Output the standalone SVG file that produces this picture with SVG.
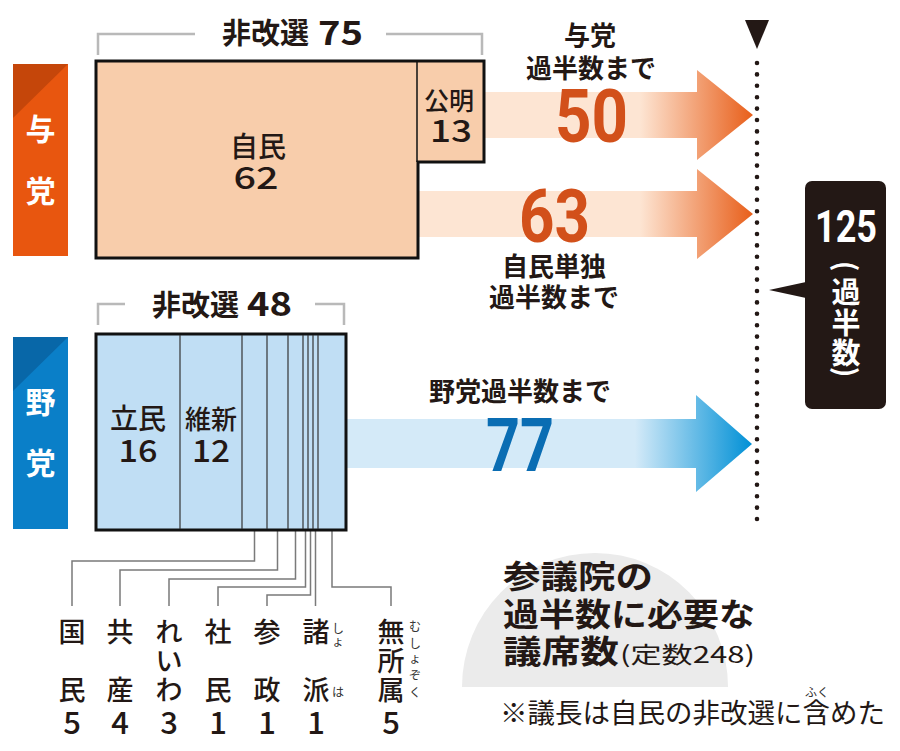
<svg xmlns="http://www.w3.org/2000/svg" width="900" height="751" viewBox="0 0 900 751">
<style>
.jp{font-family:"Noto Sans CJK JP","Noto Sans",sans-serif}
.b{font-weight:700}
.m{font-weight:500}
.num{font-family:Roboto,"Liberation Sans",sans-serif;font-weight:700}
.c{text-anchor:middle}
.brk{fill:none;stroke:#b9b9b9;stroke-width:2.5}
.lead{fill:none;stroke:#7a7a7a;stroke-width:1.5}
.div{stroke:#333;stroke-width:1.2}
.dark{fill:#231815}
.furi{font-family:"Noto Sans CJK JP",sans-serif;font-size:12px;fill:#333;text-anchor:middle}
</style>
<defs>
<linearGradient id="gO" gradientUnits="userSpaceOnUse" x1="640" y1="0" x2="752" y2="0">
<stop offset="0" stop-color="#fde5d3"/><stop offset="1" stop-color="#e8601c"/>
</linearGradient>
<linearGradient id="gB" gradientUnits="userSpaceOnUse" x1="635" y1="0" x2="752" y2="0">
<stop offset="0" stop-color="#d4eaf8"/><stop offset="1" stop-color="#0090d6"/>
</linearGradient>
</defs>
<rect width="900" height="751" fill="#fff"/>

<!-- connectors -->
<g id="connectors">
<path fill="url(#gO)" d="M484 92 H697 V70 L753 115 L697 160 V138 H484 Z"/>
<path fill="url(#gO)" d="M418 191 H697 V169 L753 214 L697 259 V237 H418 Z"/>
<path fill="url(#gB)" d="M346 419 H696 V395 L752 444 L696 492 V468 H346 Z"/>
<line x1="757" y1="63" x2="757" y2="522" stroke="#231815" stroke-width="4.6" stroke-linecap="round" stroke-dasharray="0 11.4"/>
<polygon class="dark" points="745,20 769,20 757,49"/>
<g class="lead">
<path d="M254.5 524 V561 H72 V606"/>
<path d="M277.5 524 V570 H120 V606"/>
<path d="M295.5 524 V579 H169 V606"/>
<path d="M305.5 524 V587 H218 V606"/>
<path d="M310.5 524 V595 H267 V606"/>
<path d="M315.5 524 V606"/>
<path d="M332 524 V587 H391 V606"/>
</g>
</g>

<!-- ruling party tab -->
<g id="tab-ruling">
<rect x="13" y="64" width="55" height="192" fill="#e8560f"/>
<polygon points="13,64 68,64 13,118" fill="#c5460a"/>
<text class="jp b c" x="40.5" y="140" font-size="30" fill="#fff">与</text>
<text class="jp b c" x="40.5" y="202" font-size="30" fill="#fff">党</text>
</g>

<!-- opposition tab -->
<g id="tab-opposition">
<rect x="13" y="337" width="55" height="192" fill="#0a7fc8"/>
<polygon points="13,337 68,337 13,391" fill="#0867a8"/>
<text class="jp b c" x="40.5" y="413" font-size="30" fill="#fff">野</text>
<text class="jp b c" x="40.5" y="474" font-size="30" fill="#fff">党</text>
</g>

<!-- top bracket -->
<g id="bracket-ruling">
<path class="brk" d="M98 55 V34 H195"/>
<path class="brk" d="M386 34 H482 V55"/>
<text class="jp b" x="222" y="43.5" font-size="29" fill="#231815">非改選</text>
<text class="jp b" x="318" y="45" font-size="33" fill="#231815" textLength="45" lengthAdjust="spacingAndGlyphs">75</text>
</g>

<!-- ruling box -->
<g id="box-ruling">
<path d="M96 61 H484 V162 H418 V258 H96 Z" fill="#f8cdab" stroke="#111" stroke-width="3"/>
<line x1="417" y1="61" x2="417" y2="162" stroke="#111" stroke-width="1.5"/>
<text class="jp m c" x="258" y="157" font-size="28" fill="#231815">自民</text>
<text class="jp m c" x="256" y="189" font-size="31" fill="#231815" textLength="45" lengthAdjust="spacingAndGlyphs">62</text>
<text class="jp m c" x="449" y="110" font-size="25" fill="#231815">公明</text>
<text class="jp m c" x="451" y="142" font-size="31" fill="#231815" textLength="42" lengthAdjust="spacingAndGlyphs">13</text>
</g>

<!-- arrow labels -->
<g id="label-50">
<text class="jp b c" x="590" y="45" font-size="26" fill="#231815">与党</text>
<text class="jp b c" x="591" y="77.5" font-size="26" fill="#231815">過半数まで</text>
<text class="num" x="555" y="142" font-size="75" fill="#d2501a" textLength="73" lengthAdjust="spacingAndGlyphs">50</text>
</g>
<g id="label-63">
<text class="num" x="519" y="242" font-size="75" fill="#d2501a" textLength="71" lengthAdjust="spacingAndGlyphs">63</text>
<text class="jp b c" x="554" y="275.5" font-size="26" fill="#231815">自民単独</text>
<text class="jp b c" x="554" y="306.5" font-size="26" fill="#231815">過半数まで</text>
</g>
<g id="label-77">
<text class="jp b c" x="520" y="400.5" font-size="26" fill="#231815">野党過半数まで</text>
<text class="num" x="486" y="471" font-size="75" fill="#0a6db3" textLength="68" lengthAdjust="spacingAndGlyphs">77</text>
</g>

<!-- 125 callout -->
<g id="callout-125">
<rect x="805" y="181" width="81" height="228" rx="7" class="dark"/>
<polygon class="dark" points="806,282 806,298 769,290"/>
<text class="num c" x="846" y="242" font-size="44" fill="#fff" textLength="62" lengthAdjust="spacingAndGlyphs">125</text>
<text class="jp b c" x="846" y="276" font-size="28" fill="#fff" transform="rotate(90 846 266)">(</text>
<text class="jp b c" x="846" y="303" font-size="29" fill="#fff">過</text>
<text class="jp b c" x="846" y="334" font-size="29" fill="#fff">半</text>
<text class="jp b c" x="846" y="364" font-size="29" fill="#fff">数</text>
<text class="jp b c" x="846" y="382" font-size="28" fill="#fff" transform="rotate(90 846 372)">)</text>
</g>

<!-- bottom bracket -->
<g id="bracket-opposition">
<path class="brk" d="M98 325 V304 H125"/>
<path class="brk" d="M315 304 H344 V325"/>
<text class="jp b" x="152" y="315.5" font-size="29" fill="#231815">非改選</text>
<text class="jp b" x="247" y="316" font-size="33" fill="#231815" textLength="45" lengthAdjust="spacingAndGlyphs">48</text>
</g>

<!-- opposition box -->
<g id="box-opposition">
<rect x="96" y="334" width="250" height="196" fill="#c0def4" stroke="#111" stroke-width="3"/>
<g class="div">
<line x1="180" y1="335" x2="180" y2="529"/>
<line x1="242" y1="335" x2="242" y2="529"/>
<line x1="267" y1="335" x2="267" y2="529"/>
<line x1="288" y1="335" x2="288" y2="529"/>
<line x1="303" y1="335" x2="303" y2="529"/>
<line x1="308" y1="335" x2="308" y2="529"/>
<line x1="313" y1="335" x2="313" y2="529"/>
<line x1="318" y1="335" x2="318" y2="529"/>
</g>
<text class="jp m c" x="138" y="429" font-size="28" fill="#231815">立民</text>
<text class="jp m c" x="138" y="462" font-size="31" fill="#231815" textLength="39" lengthAdjust="spacingAndGlyphs">16</text>
<text class="jp m c" x="211" y="429" font-size="26" fill="#231815">維新</text>
<text class="jp m c" x="211" y="462" font-size="31" fill="#231815" textLength="38" lengthAdjust="spacingAndGlyphs">12</text>
</g>

<!-- small party labels -->
<g id="labels-small" class="jp m c" font-size="27" fill="#231815">
<g id="p-kokumin"><text x="72" y="642">国</text><text x="72" y="700">民</text><text x="72" y="734" font-size="31">5</text></g>
<g id="p-kyosan"><text x="120" y="642">共</text><text x="120" y="700">産</text><text x="120" y="734" font-size="31">4</text></g>
<g id="p-reiwa"><text x="169" y="642">れ</text><text x="169" y="671">い</text><text x="169" y="700">わ</text><text x="169" y="734" font-size="31">3</text></g>
<g id="p-shamin"><text x="218" y="642">社</text><text x="218" y="700">民</text><text x="218" y="734" font-size="31">1</text></g>
<g id="p-sansei"><text x="267" y="642">参</text><text x="267" y="700">政</text><text x="267" y="734" font-size="31">1</text></g>
<g id="p-shoha"><text x="316" y="642">諸</text><text x="316" y="700">派</text><text x="316" y="734" font-size="31">1</text></g>
<g id="p-mushozoku"><text x="391" y="642">無</text><text x="391" y="671">所</text><text x="391" y="700">属</text><text x="391" y="734" font-size="31">5</text></g>
</g>
<g id="furigana">
<text class="furi" x="338" y="633">し</text>
<text class="furi" x="338" y="646">ょ</text>
<text class="furi" x="338" y="697">は</text>
<text class="furi" x="415" y="631">む</text>
<text class="furi" x="415" y="648">し</text>
<text class="furi" x="415" y="663">ょ</text>
<text class="furi" x="415" y="680">ぞ</text>
<text class="furi" x="415" y="697">く</text>
</g>

<!-- caption -->
<g id="caption">
<path d="M462 687 A133 134 0 0 1 728 687 Z" fill="#ebebeb"/>
<text class="jp b" x="503" y="588" font-size="32" fill="#231815" textLength="150" lengthAdjust="spacingAndGlyphs">参議院の</text>
<text class="jp b" x="503" y="626" font-size="32" fill="#231815" textLength="252" lengthAdjust="spacingAndGlyphs">過半数に必要な</text>
<text class="jp b" x="503" y="663" font-size="32" fill="#231815" textLength="116" lengthAdjust="spacingAndGlyphs">議席数</text>
<text class="jp" x="620" y="663" font-size="23" fill="#231815" textLength="135" lengthAdjust="spacingAndGlyphs">(定数248)</text>
<text class="jp" x="500" y="722.5" font-size="27" fill="#231815" textLength="385" lengthAdjust="spacingAndGlyphs">※議長は自民の非改選に含めた</text>
<text class="furi" x="817" y="697">ふく</text>
</g>
</svg>
